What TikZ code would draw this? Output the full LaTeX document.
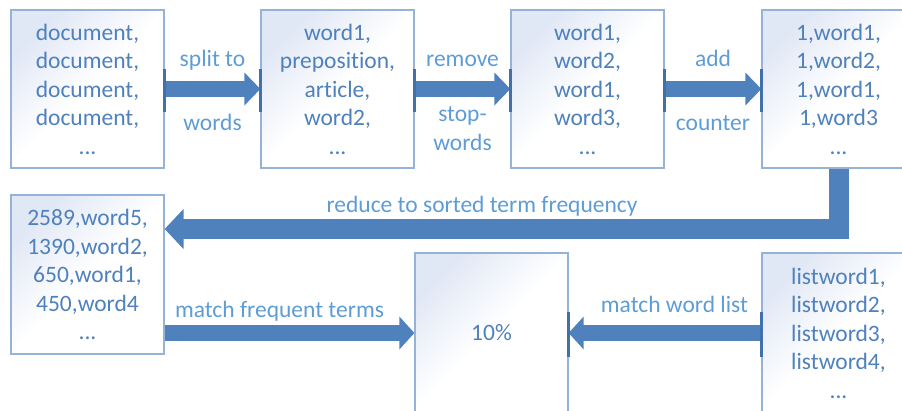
\documentclass[tikz,border=0pt]{standalone}
\usepackage{fontspec}
\setmainfont{Carlito}[Ligatures=NoCommon]
\usetikzlibrary{arrows.meta,calc}

\definecolor{boxline}{RGB}{149,179,215}
\definecolor{boxtint}{RGB}{224,231,245}
\definecolor{boxtext}{RGB}{79,129,189}
\definecolor{lbltext}{RGB}{94,156,214}
\definecolor{arrowfill}{RGB}{79,129,189}
\definecolor{arrowedge}{RGB}{66,112,168}

\begin{document}
\begin{tikzpicture}[x=1pt, y=-1pt,
  box/.style={draw=boxline, line width=1.2pt, top color=boxtint, bottom color=white,
    middle color=white, shading angle=45, minimum width=153pt, minimum height=158pt,
    inner sep=0pt, align=center, text=boxtext, font=\fontsize{23.5}{28.5}\selectfont},
  fat/.style={draw=arrowfill, line width=16pt, -{Triangle[length=16pt,width=32pt]}},
  lbl/.style={text=lbltext, font=\fontsize{23.5}{29}\selectfont, anchor=base, align=center},
  edgebar/.style={draw=arrowedge, line width=2.5pt}]
\useasboundingbox (0,0) rectangle (902,411);

% first row
\node[box] (doc)   at (87.5,89)  {document,\\document,\\document,\\document,\\...};
\node[box] (split) at (337.5,89) {word1,\\preposition,\\article,\\word2,\\...};
\node[box] (stop)  at (587.5,89) {word1,\\word2,\\word1,\\word3,\\...};
\node[box] (count) at (838.5,89) {1,word1,\\1,word2,\\1,word1,\\1,word3\\...};

% second row
\node[box, minimum height=159pt] (freq) at (87.5,274.5) {2589,word5,\\1390,word2,\\650,word1,\\450,word4\\...};
\node[box, minimum height=160pt] (pct)  at (491.5,333) {10\%};
\node[box, minimum height=160pt] (list) at (838.5,333) {listword1,\\listword2,\\listword3,\\listword4,\\...};

% arrows of the first row
\draw[fat] (doc) -- (split)
  node[midway, lbl, yshift=22.5pt] {split to}
  node[midway, lbl, yshift=-42pt] {words};
\draw[fat] (split) -- (stop)
  node[midway, lbl, yshift=22.5pt] {remove}
  node[midway, lbl, yshift=-62pt] {stop-\\words};
\draw[fat] (stop) -- (count)
  node[midway, lbl, yshift=22.5pt] {add}
  node[midway, lbl, yshift=-42pt] {counter};
\foreach \b in {doc,split,stop}
  \draw[edgebar] ($(\b.east)+(0,-19.5)$) -- ++(0,43);
\foreach \b in {split,stop,count}
  \draw[edgebar] ($(\b.west)+(0,-19.5)$) -- ++(0,43);

% reduce
\coordinate (turn) at (838.5,229);
\draw[fat, line width=20pt, line join=miter, -{Triangle[length=19pt,width=39pt]}]
  (count.south) -- (turn) -- (freq.east |- turn)
  node[pos=.529, lbl, yshift=16pt] {reduce to sorted term frequency};

% second row arrows
\draw[fat, -{Triangle[length=15pt,width=32pt]}] (freq.east |- pct.west) -- (pct.west)
  node[midway, lbl, xshift=-10pt, yshift=15pt] {match frequent terms};
\draw[fat, -{Triangle[length=15pt,width=32pt]}] (list.west) -- (pct.east)
  node[midway, lbl, xshift=9.5pt, yshift=20pt] {match word list};
\draw[edgebar] ($(pct.east)+(0,-21)$) -- ++(0,45);
\draw[edgebar] ($(list.west)+(0,-21)$) -- ++(0,45);
\end{tikzpicture}
\end{document}
